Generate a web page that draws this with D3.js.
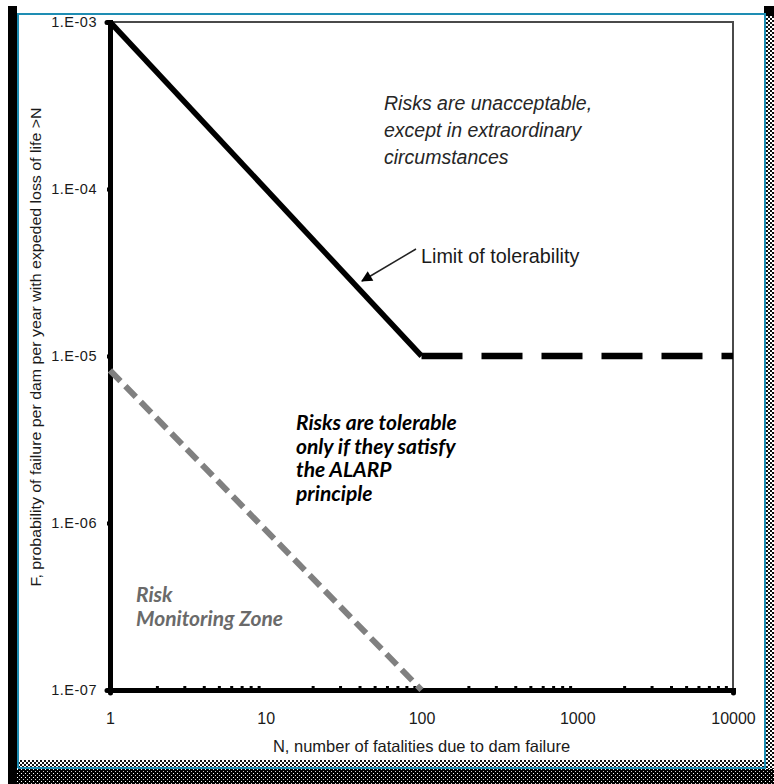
<!DOCTYPE html>
<html>
<head>
<meta charset="utf-8">
<script src="https://cdn.jsdelivr.net/npm/d3@7"></script>
<style>
  body { margin: 0; background: #fff; }
  svg { display: block; }
</style>
</head>
<body>
<div id="chart"></div>
<script>
// tick values and labels
var xTicks = [1, 10, 100, 1000, 10000];
var yTicks = [1e-3, 1e-4, 1e-5, 1e-6, 1e-7];
var yTickLabels = ["1.E-03", "1.E-04", "1.E-05", "1.E-06", "1.E-07"];

// limit of tolerability (solid part, then dashed part)
var limitN = [1, 100];
var limitF = [1e-3, 1e-5];
var limitDashN = [100, 10000];
var limitDashF = [1e-5, 1e-5];

// risk monitoring line
var monitorN = [1, 100];
var monitorF = [8.2e-6, 1e-7];

var W = 774, H = 784;
var margin = { top: 22, left: 110, right: 41, bottom: 94 };
var width = W - margin.left - margin.right;
var height = H - margin.top - margin.bottom;

var svg = d3.select("#chart").append("svg")
  .attr("width", W)
  .attr("height", H);

// border patterns
var defs = svg.append("defs");
var chk = defs.append("pattern").attr("id", "chk")
  .attr("width", 4).attr("height", 4).attr("patternUnits", "userSpaceOnUse");
chk.append("rect").attr("width", 4).attr("height", 4).attr("fill", "#fff");
chk.append("rect").attr("width", 2).attr("height", 2).attr("fill", "#111");
chk.append("rect").attr("x", 2).attr("y", 2).attr("width", 2).attr("height", 2).attr("fill", "#111");
var dots = defs.append("pattern").attr("id", "dots")
  .attr("width", 4).attr("height", 4).attr("patternUnits", "userSpaceOnUse");
dots.append("rect").attr("width", 4).attr("height", 4).attr("fill", "#000");
dots.append("rect").attr("x", 1).attr("y", 1).attr("width", 1).attr("height", 1).attr("fill", "#fff");
dots.append("rect").attr("x", 3).attr("y", 3).attr("width", 1).attr("height", 1).attr("fill", "#ccc");

defs.append("marker").attr("id", "arrow")
  .attr("viewBox", "0 0 10 10")
  .attr("refX", 9).attr("refY", 5)
  .attr("markerWidth", 15).attr("markerHeight", 11)
  .attr("markerUnits", "userSpaceOnUse")
  .attr("orient", "auto")
  .append("path").attr("d", "M0,0L10,5L0,10Z").attr("fill", "#000");

// frame decoration
svg.append("rect").attr("x", 8).attr("y", 6).attr("width", 9).attr("height", H - 6).attr("fill", "#000");
svg.append("rect").attr("x", 764).attr("y", 6).attr("width", 10).attr("height", 10).attr("fill", "#000");
svg.append("rect").attr("x", 766).attr("y", 16).attr("width", 8).attr("height", H - 16).attr("fill", "url(#chk)");
svg.append("rect").attr("x", 17).attr("y", 760).attr("width", 749).attr("height", 8).attr("fill", "url(#chk)");
svg.append("rect").attr("x", 17).attr("y", 769).attr("width", 757).attr("height", 15).attr("fill", "url(#dots)");
svg.append("path")
  .attr("d", "M18,768V14H765V768H18")
  .attr("fill", "none")
  .attr("stroke", "#1e8db3")
  .attr("stroke-width", 2);

var g = svg.append("g").attr("transform", "translate(" + margin.left + "," + margin.top + ")");

var x = d3.scaleLog().domain([1, 10000]).range([0, width]);
var y = d3.scaleLog().domain([1e-7, 1e-3]).range([height, 0]);

// thin top and right frame
g.append("path")
  .attr("d", "M0,0H" + width + "V" + height)
  .attr("fill", "none")
  .attr("stroke", "#4a4a4a")
  .attr("stroke-width", 2);

// minor ticks on x axis (pointing inward)
var minorX = [];
for (var d = 1; d < 10000; d *= 10) {
  for (var k = 2; k <= 9; k++) minorX.push(d * k);
}
g.append("g")
  .attr("transform", "translate(0," + height + ")")
  .call(d3.axisBottom(x).tickValues(minorX).tickSize(-4).tickFormat(""))
  .call(function (a) {
    a.select(".domain").remove();
    a.selectAll("line").attr("stroke", "#000").attr("stroke-width", 3);
  });

var xAxis = g.append("g")
  .attr("transform", "translate(0," + height + ")")
  .call(d3.axisBottom(x).tickValues(xTicks).tickSize(3).tickPadding(20)
    .tickFormat(function (d) { return d3.format("d")(d); }));

var yAxis = g.append("g")
  .call(d3.axisLeft(y).tickValues(yTicks).tickSize(3).tickPadding(10)
    .tickFormat(function (d, i) { return yTickLabels[i]; }));

[xAxis, yAxis].forEach(function (a) {
  a.select(".domain").attr("stroke", "#000").attr("stroke-width", 5).attr("stroke-linecap", "round");
  a.selectAll(".tick line").attr("stroke", "#000").attr("stroke-width", 4);
  a.selectAll("text").attr("fill", "#1a1a1a").style("font-family", "Liberation Sans, Arial, sans-serif");
});
xAxis.selectAll("text").style("font-size", "16px");
yAxis.selectAll("text").style("font-size", "14.5px").style("letter-spacing", "0.5px");

var line = d3.line()
  .x(function (d) { return x(d[0]); })
  .y(function (d) { return y(d[1]); });

// risk monitoring line
g.append("path")
  .datum(d3.zip(monitorN, monitorF))
  .attr("d", line)
  .attr("fill", "none")
  .attr("stroke", "#808080")
  .attr("stroke-width", 6)
  .attr("stroke-dasharray", "15,7");

// limit of tolerability
g.append("path")
  .datum(d3.zip(limitN, limitF))
  .attr("d", line)
  .attr("fill", "none")
  .attr("stroke", "#000")
  .attr("stroke-width", 5.5);

g.append("path")
  .datum(d3.zip(limitDashN, limitDashF))
  .attr("d", line)
  .attr("fill", "none")
  .attr("stroke", "#000")
  .attr("stroke-width", 6.5)
  .attr("stroke-dasharray", "41,19");

// annotations
var sans = "Liberation Sans, Arial, sans-serif";
var unacc = svg.append("text")
  .attr("x", 384).attr("y", 110)
  .attr("fill", "#262626")
  .style("font-family", sans)
  .style("font-style", "italic")
  .style("font-size", "19.5px");
["Risks are unacceptable,", "except in extraordinary", "circumstances"].forEach(function (t, i) {
  unacc.append("tspan").attr("x", 384).attr("dy", i ? 27 : 0).text(t);
});

svg.append("text")
  .attr("x", 421).attr("y", 263)
  .attr("fill", "#1a1a1a")
  .style("font-family", sans)
  .style("font-size", "19.8px")
  .text("Limit of tolerability");

svg.append("line")
  .attr("x1", 416).attr("y1", 249)
  .attr("x2", 362).attr("y2", 281)
  .attr("stroke", "#222")
  .attr("stroke-width", 1.5)
  .attr("marker-end", "url(#arrow)");

var alarp = svg.append("text")
  .attr("x", 296).attr("y", 430)
  .attr("fill", "#000")
  .style("font-family", "Lato, 'Open Sans', sans-serif")
  .style("font-style", "italic")
  .style("font-weight", "bold")
  .style("font-size", "21px");
["Risks are tolerable", "only if they satisfy", "the ALARP", "principle"].forEach(function (t, i) {
  alarp.append("tspan").attr("x", 296).attr("dy", i ? 23.5 : 0).text(t);
});

var mon = svg.append("text")
  .attr("x", 136).attr("y", 602)
  .attr("fill", "#6a6a6a")
  .style("font-family", "Lato, 'Open Sans', sans-serif")
  .style("font-style", "italic")
  .style("font-weight", "bold")
  .style("font-size", "21px");
["Risk", "Monitoring Zone"].forEach(function (t, i) {
  mon.append("tspan").attr("x", 136).attr("dy", i ? 23.5 : 0).text(t);
});

// axis titles
svg.append("text")
  .attr("x", margin.left + x(100)).attr("y", 752)
  .attr("text-anchor", "middle")
  .attr("fill", "#1a1a1a")
  .style("font-family", sans)
  .style("font-size", "16.5px")
  .text("N, number of fatalities due to dam failure");

svg.append("text")
  .attr("transform", "translate(41,347) rotate(-90)")
  .attr("text-anchor", "middle")
  .attr("fill", "#1a1a1a")
  .attr("textLength", 479)
  .attr("lengthAdjust", "spacingAndGlyphs")
  .style("font-family", sans)
  .style("font-size", "15.5px")
  .text("F, probability of failure per dam per year with expeded loss of life >N");
</script>
</body>
</html>
